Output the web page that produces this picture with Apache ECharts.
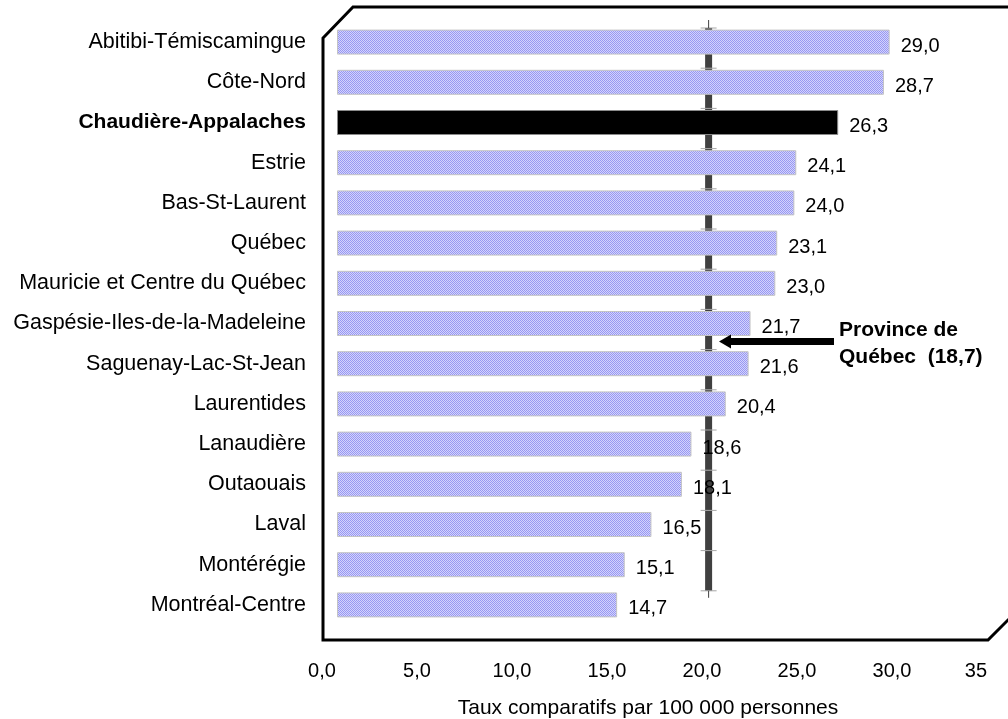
<!DOCTYPE html>
<html>
<head>
<meta charset="utf-8">
<script src="https://cdn.jsdelivr.net/npm/echarts@6/dist/echarts.min.js"></script>
<style>
  html, body { margin: 0; padding: 0; background: #fff; }
  #chart { width: 1008px; height: 719px; }
</style>
</head>
<body>
<div id="chart"></div>
<script>
const regions = [
  'Abitibi-Témiscamingue', 'Côte-Nord', 'Chaudière-Appalaches', 'Estrie',
  'Bas-St-Laurent', 'Québec', 'Mauricie et Centre du Québec',
  'Gaspésie-Iles-de-la-Madeleine', 'Saguenay-Lac-St-Jean', 'Laurentides',
  'Lanaudière', 'Outaouais', 'Laval', 'Montérégie', 'Montréal-Centre'
];
const rates = [29.0, 28.7, 26.3, 24.1, 24.0, 23.1, 23.0, 21.7, 21.6, 20.4, 18.6, 18.1, 16.5, 15.1, 14.7];
const highlighted = 'Chaudière-Appalaches';
const provinceRate = 18.7;
// where the province line sits in the picture (it is not drawn at 18.7 there)
const provinceLineAt = 19.5;
const tickLabels = ['0,0', '5,0', '10,0', '15,0', '20,0', '25,0', '30,0', '35'];
const axisTitle = 'Taux comparatifs par 100 000 personnes';

const FONT = "'Liberation Sans', Arial, sans-serif";
const fmt = v => v.toFixed(1).replace('.', ',');

// dotted lavender fill like the original bars
const pat = document.createElement('canvas');
pat.width = 2; pat.height = 2;
const pctx = pat.getContext('2d');
pctx.fillStyle = '#d4d4fb'; pctx.fillRect(0, 0, 2, 2);
pctx.fillStyle = '#9797f3'; pctx.fillRect(0, 0, 1, 1); pctx.fillRect(1, 1, 1, 1);

const chart = echarts.init(document.getElementById('chart'));

chart.setOption({
  animation: false,
  grid: [
    { left: 337, width: 667, top: 22, height: 603, outerBoundsMode: 'none' },
    { left: 322, width: 665, top: 640, height: 10, outerBoundsMode: 'none' }
  ],
  xAxis: [
    { gridIndex: 0, type: 'value', min: 0, max: 35, show: false },
    {
      gridIndex: 1, type: 'value', min: 0, max: 35, interval: 5,
      axisLine: { show: false }, axisTick: { show: false }, splitLine: { show: false },
      axisLabel: {
        margin: 11, fontSize: 20, color: '#000', fontFamily: FONT,
        alignMaxLabel: 'right',
        formatter: v => tickLabels[Math.round(v / 5)]
      }
    }
  ],
  yAxis: [
    {
      gridIndex: 0, type: 'category', data: regions, inverse: true,
      axisLine: { show: false }, axisTick: { show: false }, splitLine: { show: false },
      axisLabel: {
        margin: 31, fontSize: 21.5, color: '#000', fontFamily: FONT,
        formatter: v => v === highlighted ? '{b|' + v + '}' : v,
        rich: { b: { fontWeight: 'bold', fontSize: 21, color: '#000', fontFamily: FONT } }
      }
    },
    { gridIndex: 1, type: 'value', show: false }
  ],
  series: [
    {
      type: 'custom',
      xAxisIndex: 0, yAxisIndex: 0,
      z: 1,
      silent: true,
      data: regions.map((r, i) => [provinceLineAt, i]),
      renderItem: function (params, api) {
        const idx = params.dataIndex;
        const last = regions.length - 1;
        if (idx === last) return null;
        const p = api.coord([api.value(0), api.value(1)]);
        const band = api.size([0, 1])[1];
        const y = p[1] - band / 2 + 6;
        const kids = [
          { type: 'line', shape: { x1: p[0], y1: y, x2: p[0], y2: y + band },
            style: { stroke: '#404040', lineWidth: 7 } },
          { type: 'line', shape: { x1: p[0] - 8, y1: y, x2: p[0] + 8, y2: y },
            style: { stroke: '#a6a6a6', lineWidth: 1 } }
        ];
        if (idx === 0) {
          kids.push({ type: 'line', shape: { x1: p[0], y1: y - 8, x2: p[0], y2: y },
            style: { stroke: '#404040', lineWidth: 1 } });
        }
        if (idx === last - 1) {
          kids.push({ type: 'line', shape: { x1: p[0] - 8, y1: y + band, x2: p[0] + 8, y2: y + band },
            style: { stroke: '#a6a6a6', lineWidth: 1 } });
          kids.push({ type: 'line', shape: { x1: p[0], y1: y + band, x2: p[0], y2: y + band + 7 },
            style: { stroke: '#404040', lineWidth: 1 } });
        }
        return { type: 'group', children: kids };
      }
    },
    {
      type: 'bar',
      xAxisIndex: 0, yAxisIndex: 0,
      z: 2,
      barWidth: 25,
      data: rates.map((v, i) => regions[i] === highlighted
        ? { value: v, itemStyle: { color: '#000', borderColor: '#8a8a8a' } }
        : v),
      itemStyle: {
        color: { image: pat, repeat: 'repeat' },
        borderColor: '#c4c4c4', borderWidth: 1
      },
      label: {
        show: true, position: 'right', distance: 11, offset: [0, 4],
        fontSize: 20, color: '#000', fontFamily: FONT,
        formatter: p => fmt(p.value)
      }
    }
  ],
  graphic: [
    {
      type: 'polyline', z: 100, silent: true,
      shape: { points: [[323, 640], [323, 38], [353, 7], [1040, 7], [1040, 588], [988, 640], [321.5, 640]] },
      style: { stroke: '#000', lineWidth: 3, fill: null }
    },
    {
      type: 'line', z: 100, silent: true,
      shape: { x1: 834, y1: 341.5, x2: 728, y2: 341.5 },
      style: { stroke: '#000', lineWidth: 7 }
    },
    {
      type: 'polygon', z: 100, silent: true,
      shape: { points: [[719, 341.5], [731, 334.5], [731, 348.5]] },
      style: { fill: '#000' }
    },
    {
      type: 'text', z: 100, silent: true, left: 839, top: 320,
      style: { text: 'Province de', font: 'bold 21px ' + FONT, fill: '#000' }
    },
    {
      type: 'text', z: 100, silent: true, left: 839, top: 347,
      style: { text: 'Québec  (' + fmt(provinceRate) + ')', font: 'bold 21px ' + FONT, fill: '#000' }
    },
    {
      type: 'text', z: 100, silent: true, x: 648, y: 708,
      style: { text: axisTitle, font: '21px ' + FONT, fill: '#000', align: 'center', verticalAlign: 'middle' }
    }
  ]
});

window.addEventListener('resize', () => chart.resize());
</script>
</body>
</html>
